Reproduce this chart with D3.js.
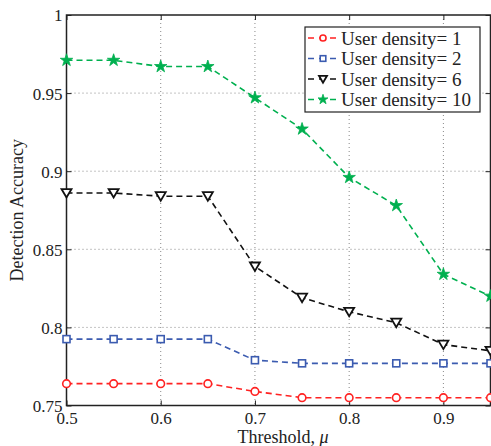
<!DOCTYPE html>
<html>
<head>
<meta charset="utf-8">
<script src="https://cdn.jsdelivr.net/npm/d3@7"></script>
<style>
  body { margin: 0; background: #fff; }
</style>
</head>
<body>
<div id="chart"></div>
<script>
var thresholds = [0.5, 0.55, 0.6, 0.65, 0.7, 0.75, 0.8, 0.85, 0.9, 0.95];
var density1 = [0.764, 0.764, 0.764, 0.764, 0.759, 0.755, 0.755, 0.755, 0.755, 0.755];
var density2 = [0.7925, 0.7925, 0.7925, 0.7925, 0.779, 0.777, 0.777, 0.777, 0.777, 0.777];
var density6 = [0.886, 0.886, 0.884, 0.884, 0.839, 0.819, 0.810, 0.803, 0.789, 0.785];
var density10 = [0.971, 0.971, 0.967, 0.967, 0.947, 0.927, 0.896, 0.878, 0.834, 0.820];
var seriesNames = ["User density= 1", "User density= 2", "User density= 6", "User density= 10"];
var xTicks = [0.5, 0.6, 0.7, 0.8, 0.9];
var xTickLabels = ["0.5", "0.6", "0.7", "0.8", "0.9"];
var yTicks = [0.75, 0.8, 0.85, 0.9, 0.95, 1];
var yTickLabels = ["0.75", "0.8", "0.85", "0.9", "0.95", "1"];

var FONT = "'Liberation Serif', 'DejaVu Serif', serif";

var width = 491, height = 446,
  margin = {left: 66.5, right: 0.5, top: 15, bottom: 40.5},
  w = width - margin.left - margin.right,
  h = height - margin.top - margin.bottom;

var svg = d3.select("#chart").append("svg")
  .attr("width", width).attr("height", height);
var chart = svg.append("g")
  .attr("transform", "translate(" + margin.left + "," + margin.top + ")");

var x = d3.scaleLinear().domain([0.5, 0.95]).range([0, w]);
var y = d3.scaleLinear().domain([0.75, 1]).range([h, 0]);

// dotted grid
chart.append("g").selectAll("line").data(xTicks.slice(1)).enter().append("line")
  .attr("x1", function (d) { return x(d); }).attr("x2", function (d) { return x(d); })
  .attr("y1", 0).attr("y2", h)
  .attr("stroke", "#888").attr("stroke-width", 1).attr("stroke-dasharray", "1,3");
chart.append("g").selectAll("line").data(yTicks.slice(1, -1)).enter().append("line")
  .attr("y1", function (d) { return y(d); }).attr("y2", function (d) { return y(d); })
  .attr("x1", 0).attr("x2", w)
  .attr("stroke", "#888").attr("stroke-width", 1).attr("stroke-dasharray", "1,3");

// axes with inside ticks
var xAxis = chart.append("g").attr("transform", "translate(0," + h + ")")
  .call(d3.axisBottom(x).tickValues(xTicks).tickSize(-5).tickPadding(6)
    .tickFormat(function (d, i) { return xTickLabels[i]; }));
var yAxis = chart.append("g")
  .call(d3.axisLeft(y).tickValues(yTicks).tickSize(-5).tickPadding(4)
    .tickFormat(function (d, i) { return yTickLabels[i]; }));
chart.append("g").call(d3.axisTop(x).tickValues(xTicks).tickSize(-5).tickFormat(""));
chart.append("g").attr("transform", "translate(" + w + ",0)")
  .call(d3.axisRight(y).tickValues(yTicks).tickSize(-5).tickFormat(""));

chart.selectAll(".domain").remove();
chart.selectAll(".tick line").attr("stroke", "#222");
chart.selectAll(".tick text").style("font-size", "17px").style("font-family", FONT).attr("fill", "#222");
xAxis.selectAll(".tick text").attr("dy", "0.71em");
yAxis.selectAll(".tick text").attr("dy", "0.35em");

chart.append("rect").attr("x", 0).attr("y", 0).attr("width", w).attr("height", h)
  .attr("fill", "none").attr("stroke", "#222").attr("stroke-width", 1.5);

var series = [
  {name: seriesNames[0], values: density1, color: "#f22", marker: "circle"},
  {name: seriesNames[1], values: density2, color: "#3b5bb0", marker: "square"},
  {name: seriesNames[2], values: density6, color: "#111", marker: "triangle"},
  {name: seriesNames[3], values: density10, color: "#00b04f", marker: "star"}
];

function drawMarker(g, type, color, s) {
  if (type === "circle") {
    g.append("circle").attr("r", 3.8 * s).attr("fill", "#fff")
      .attr("stroke", color).attr("stroke-width", 1.6);
  } else if (type === "square") {
    g.append("rect").attr("x", -3.5 * s).attr("y", -3.5 * s).attr("width", 7 * s).attr("height", 7 * s)
      .attr("fill", "#fff").attr("stroke", color).attr("stroke-width", 1.6);
  } else if (type === "triangle") {
    g.append("path").attr("d", "M" + (-5 * s) + "," + (-4 * s) + "L" + (5 * s) + "," + (-4 * s) + "L0," + (4.5 * s) + "Z")
      .attr("fill", "#fff").attr("stroke", color).attr("stroke-width", 1.8);
  } else {
    g.append("path").attr("d", d3.symbol(d3.symbolStar, 48 * s * s)())
      .attr("fill", color).attr("stroke", color).attr("stroke-width", 0.8);
  }
}

var line = d3.line()
  .x(function (d, i) { return x(thresholds[i]); })
  .y(function (d) { return y(d); });

series.forEach(function (s) {
  chart.append("path").datum(s.values)
    .attr("d", line).attr("fill", "none")
    .attr("stroke", s.color).attr("stroke-width", 1.6).attr("stroke-dasharray", "6,4");
  s.values.forEach(function (v, i) {
    var g = chart.append("g").attr("transform", "translate(" + x(thresholds[i]) + "," + y(v) + ")");
    drawMarker(g, s.marker, s.color, 1);
  });
});

// legend
var legend = svg.append("g").attr("transform", "translate(305,27)");
legend.append("rect").attr("width", 175).attr("height", 85)
  .attr("fill", "#fff").attr("stroke", "#222").attr("stroke-width", 1.2);
series.forEach(function (s, i) {
  var row = legend.append("g").attr("transform", "translate(0," + (11 + i * 20.5) + ")");
  row.append("line").attr("x1", 3).attr("x2", 33).attr("y1", 0).attr("y2", 0)
    .attr("stroke", s.color).attr("stroke-width", 1.6).attr("stroke-dasharray", "6,5");
  drawMarker(row.append("g").attr("transform", "translate(18,0)"), s.marker, s.color, 0.8);
  row.append("text").attr("x", 36).attr("dy", "0.35em")
    .style("font-size", "19px").style("font-family", FONT).attr("fill", "#222").text(s.name);
});

// axis labels
svg.append("text").attr("x", 283).attr("y", 442.5)
  .attr("text-anchor", "middle").style("font-size", "18px").style("font-family", FONT).attr("fill", "#222")
  .html("Threshold, <tspan font-style='italic'>\u03bc</tspan>");
svg.append("text").attr("transform", "translate(23," + (margin.top + h / 2) + ") rotate(-90)")
  .attr("text-anchor", "middle").style("font-size", "18px").style("font-family", FONT).attr("fill", "#222")
  .text("Detection Accuracy");
</script>
</body>
</html>
